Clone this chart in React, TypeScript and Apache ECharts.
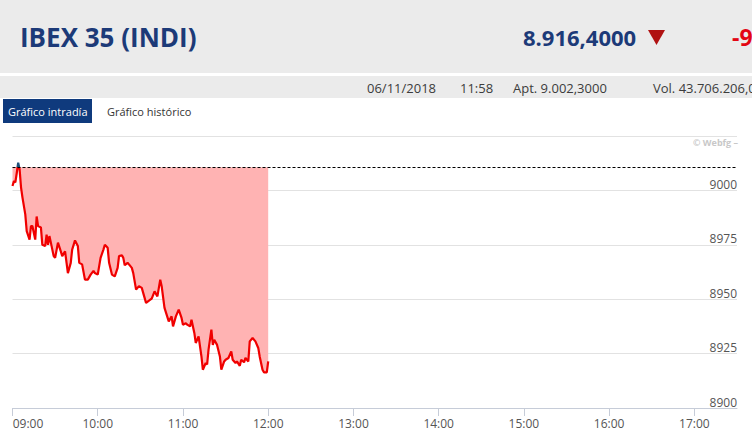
import React, { useEffect, useRef } from "react";
import * as echarts from "echarts";

// minutes after 09:00
const minutes = [
  0, 1, 2, 3, 4, 5, 6, 7, 9, 10, 12, 13, 14, 16, 17, 18, 20, 21, 23, 24,
  25, 26, 27, 29, 30, 32, 34, 35, 37, 39, 41, 42, 44, 46, 47, 49, 51, 53, 55, 57,
  58, 60, 62, 64, 65, 67, 68, 70, 72, 74, 75, 77, 78, 79, 81, 82, 84, 85, 87, 89,
  91, 93, 94, 97, 98, 100, 102, 104, 105, 107, 110, 112, 113, 115, 117, 119, 120, 122, 123, 125,
  126, 128, 129, 131, 133, 134, 136, 137, 138, 140, 141, 142, 144, 146, 147, 149, 150, 152, 154, 155,
  157, 158, 160, 161, 163, 164, 166, 167, 169, 171, 173, 174, 176, 177, 179, 180,
];
const prices = [
  9002.0, 9004.3, 9003.7, 9008.0, 9012.7, 9009.7, 9001.4, 8996.8, 8989.0, 8981.3,
  8977.4, 8983.6, 8983.6, 8977.4, 8988.0, 8983.6, 8983.0, 8975.0, 8974.4, 8979.7,
  8975.0, 8979.0, 8976.0, 8969.8, 8969.0, 8976.0, 8972.0, 8969.8, 8972.0, 8962.0,
  8966.7, 8972.8, 8977.0, 8974.4, 8966.7, 8966.0, 8959.0, 8959.0, 8961.3, 8963.0,
  8962.0, 8961.3, 8969.0, 8972.8, 8975.0, 8973.6, 8966.7, 8961.3, 8960.5, 8964.4,
  8969.8, 8970.2, 8969.0, 8965.6, 8966.7, 8966.0, 8964.4, 8962.0, 8954.4, 8956.0,
  8955.2, 8950.6, 8948.3, 8949.8, 8950.3, 8953.6, 8951.3, 8959.0, 8956.0, 8946.0,
  8939.8, 8942.1, 8937.5, 8942.1, 8945.2, 8941.4, 8938.3, 8939.0, 8938.3, 8937.5,
  8940.6, 8934.5, 8929.9, 8932.9, 8923.7, 8917.6, 8920.7, 8920.0, 8926.8, 8936.0,
  8929.0, 8931.4, 8929.0, 8923.7, 8917.6, 8921.4, 8922.2, 8923.0, 8926.0, 8922.2,
  8920.7, 8921.4, 8919.4, 8922.2, 8921.0, 8923.0, 8921.4, 8930.6, 8932.2, 8930.6,
  8927.6, 8923.7, 8917.6, 8916.4, 8916.4, 8921.4,
];
const prevClose = 9010.6;

const xTickMinutes = [0, 60, 120, 180, 240, 300, 360, 420, 480];
const xTickLabels = ["09:00", "10:00", "11:00", "12:00", "13:00", "14:00", "15:00", "16:00", "17:00"];
const yTicks = [8900, 8925, 8950, 8975, 9000];

const title = "IBEX 35 (INDI)";
const lastPrice = "8.916,4000";
const change = "-94,2000";
const infoDate = "06/11/2018";
const infoTime = "11:58";
const infoOpen = "Apt. 9.002,3000";
const infoVol = "Vol. 43.706.206,00";

const FONT = "'Open Sans', 'Noto Sans', sans-serif";

function txt(x: number, y: number, text: string, font: string, fill: string, align = "left") {
  return {
    type: "text",
    x,
    y,
    silent: true,
    style: {
      text,
      font,
      fill,
      textAlign: align,
      textVerticalAlign: "middle",
      align,
      verticalAlign: "middle",
    },
  };
}

export default function App() {
  const ref = useRef<HTMLDivElement>(null);
  useEffect(() => {
    if (!ref.current) return;
    const chart = echarts.init(ref.current, undefined, { renderer: "svg" });
    const points = minutes.map((m, i) => [m, prices[i]]);
    const firstM = minutes[0];
    const lastM = minutes[minutes.length - 1];
    // fill between price and previous close, built from the same data
    const fillData = points
      .map(([m, p]) => [m, Math.min(p, prevClose)])
      .concat([[lastM, prevClose], [firstM, prevClose]]);

    chart.setOption({
      animation: false,
      backgroundColor: "#ffffff",
      grid: { left: 12.5, right: 15, top: 136, bottom: 31, containLabel: false },
      xAxis: {
        type: "value",
        min: 0,
        max: 510,
        interval: 60,
        axisLine: { show: true, lineStyle: { color: "#c6ccd8", width: 1 } },
        axisTick: { show: true, length: 8, lineStyle: { color: "#c6ccd8" } },
        axisLabel: {
          color: "#555555",
          fontSize: 12,
          fontFamily: FONT,
          margin: 9,
          showMaxLabel: false,
          formatter: (v: number) => {
            const i = xTickMinutes.indexOf(Math.round(v));
            if (i < 0) return "";
            return i === 0 ? `{first|${xTickLabels[i]}}` : xTickLabels[i];
          },
          rich: {
            first: { padding: [0, 0, 0, 31], color: "#555555", fontSize: 12, fontFamily: FONT },
          },
        },
        splitLine: { show: false },
      },
      yAxis: {
        type: "value",
        position: "right",
        min: 8900,
        max: 9025,
        interval: 25,
        axisLine: { show: false },
        axisTick: { show: false },
        axisLabel: {
          inside: true,
          color: "#555555",
          fontSize: 12,
          fontFamily: FONT,
          verticalAlign: "bottom",
          margin: 0,
          showMaxLabel: false,
          formatter: (v: number) => (yTicks.indexOf(v) >= 0 ? String(v) : ""),
        },
        splitLine: { show: true, lineStyle: { color: "#e2e2e2", width: 1 } },
      },
      series: [
        {
          type: "line",
          data: fillData,
          symbol: "none",
          silent: true,
          z: 1,
          lineStyle: { width: 0, opacity: 0 },
          areaStyle: { color: "#ffb3b3", opacity: 1, origin: prevClose },
        },
        {
          type: "line",
          data: points,
          symbol: "none",
          z: 3,
          lineStyle: { width: 2.2, color: "#f00000" },
          markLine: {
            silent: true,
            symbol: ["none", "none"],
            label: { show: false },
            lineStyle: { color: "#000000", type: [3, 2], width: 1 },
            data: [{ yAxis: prevClose }],
          },
        },
      ],
      graphic: [
        { type: "rect", silent: true, shape: { x: 0, y: 0, width: 752, height: 73 }, style: { fill: "#ebebeb" } },
        { type: "rect", silent: true, shape: { x: 0, y: 76, width: 752, height: 22 }, style: { fill: "#ebebeb" } },
        txt(20, 37, title, `bold 26px ${FONT}`, "#1c3a78"),
        txt(523, 37, lastPrice, `bold 22px ${FONT}`, "#1c3a78"),
        {
          type: "polygon",
          silent: true,
          shape: { points: [[648, 30], [665, 30], [656.5, 45]] },
          style: { fill: "#b01212" },
        },
        txt(732, 37, change, `bold 23px ${FONT}`, "#e30613"),
        txt(367, 88, infoDate, `13px ${FONT}`, "#3c3c3c"),
        txt(460, 88, infoTime, `13px ${FONT}`, "#3c3c3c"),
        txt(513, 88, infoOpen, `13px ${FONT}`, "#3c3c3c"),
        txt(653, 88, infoVol, `13px ${FONT}`, "#3c3c3c"),
        { type: "rect", silent: true, shape: { x: 3, y: 99, width: 89, height: 24 }, style: { fill: "#0f3a7d" } },
        txt(8, 111, "Gráfico intradía", `11px ${FONT}`, "#ffffff"),
        txt(107, 111, "Gráfico histórico", `11px ${FONT}`, "#333333"),
        txt(738, 142, "© Webfg –", `bold 9px ${FONT}`, "#c8c8c8", "right"),
      ],
    });

    // colour the line blue where it rises above the previous close
    const py = chart.convertToPixel({ yAxisIndex: 0 }, prevClose) as number;
    if (typeof py === "number" && isFinite(py)) {
      chart.setOption({
        series: [
          {},
          {
            lineStyle: {
              color: new echarts.graphic.LinearGradient(
                0, py - 1, 0, py + 1,
                [
                  { offset: 0, color: "#1b4f7a" },
                  { offset: 0.5, color: "#1b4f7a" },
                  { offset: 0.5, color: "#f00000" },
                  { offset: 1, color: "#f00000" },
                ],
                true
              ),
            },
          },
        ],
      });
    }
    return () => chart.dispose();
  }, []);
  return <div ref={ref} style={{ position: "fixed", left: 0, top: 0, width: 752, height: 439 }} />;
}
